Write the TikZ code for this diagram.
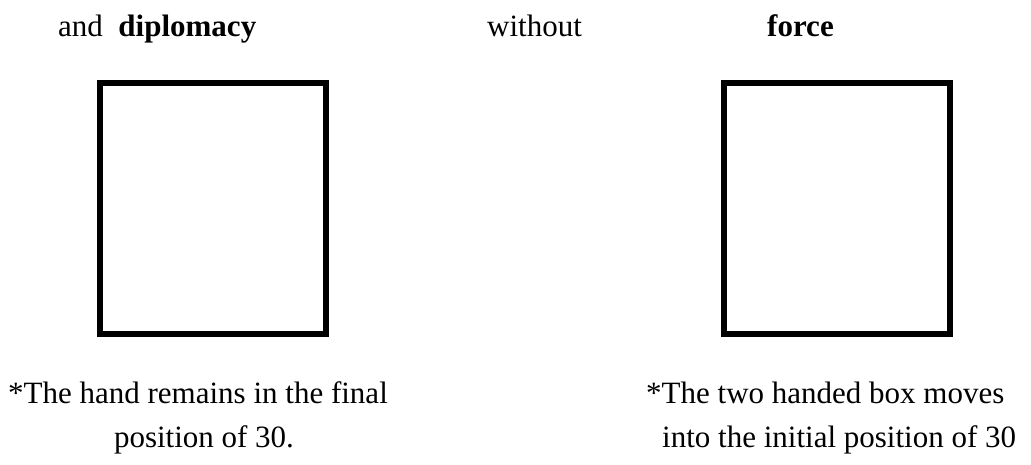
\documentclass[tikz,border=0pt]{standalone}
\usepackage{fontspec}
\setmainfont{Liberation Serif}
\begin{document}
\begin{tikzpicture}[x=1pt,y=-1pt,
  txt/.style={inner sep=0pt,anchor=base west,font=\fontsize{31}{37}\selectfont},
  ctxt/.style={inner sep=0pt,anchor=base,font=\fontsize{31}{37}\selectfont},
  frame/.style={draw=black,line width=6pt,minimum width=226pt,minimum height=251pt,inner sep=0pt}]
\useasboundingbox (0,0) rectangle (1031,464);
\node[txt] (t1) at (58,36) {and\ \ \textbf{diplomacy}};
\node[txt] (t2) at (487,36) {without};
\node[txt] (t3) at (767,36) {\textbf{force}};
\node[frame] (b1) at (213,208.5) {};
\node[frame] (b2) at (836.5,208.5) {};
\node[ctxt] (c1) at (198,403) {*The hand remains in the final};
\node[ctxt] (c2) at (204,447) {position of 30.};
\node[txt] (c3) at (646,403) {*The two handed box moves};
\node[txt] (c4) at (662,447) {into the initial position of 30};
\end{tikzpicture}
\end{document}
